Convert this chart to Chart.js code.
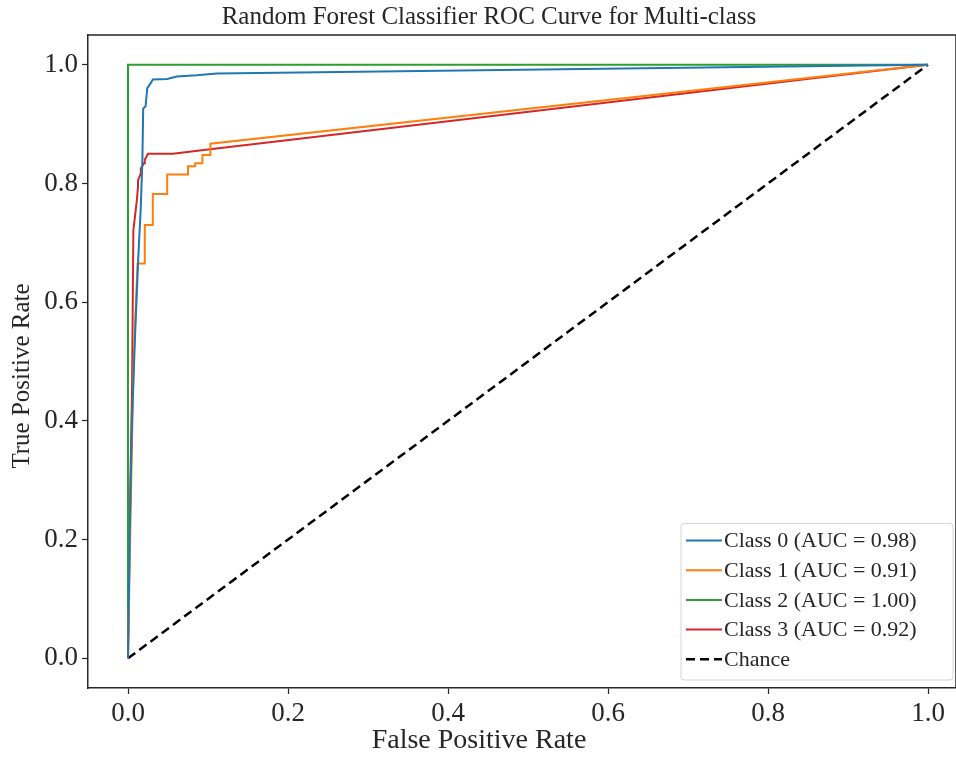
<!DOCTYPE html>
<html>
<head>
<meta charset="utf-8">
<title>ROC Curve</title>
<script src="https://cdn.jsdelivr.net/npm/chart.js@4.4.1/dist/chart.umd.min.js"></script>
<style>
  html, body { margin: 0; padding: 0; background: #fff; }
  #wrap { position: relative; width: 956px; height: 759px; }
</style>
</head>
<body>
<div id="wrap"><canvas id="rocChart"></canvas></div>
<script>
// ROC points per class (false positive rate / true positive rate)
const fpr0 = [0, 0.002, 0.005, 0.009, 0.013, 0.016, 0.018, 0.019, 0.022, 0.024, 0.028, 0.031, 0.049, 0.061, 0.086, 0.111, 1];
const tpr0 = [0, 0.20, 0.40, 0.55, 0.68, 0.76, 0.84, 0.926, 0.93, 0.960, 0.968, 0.975, 0.976, 0.980, 0.982, 0.985, 1];

const fpr1 = [0, 0.004, 0.007, 0.012, 0.021, 0.021, 0.031, 0.031, 0.049, 0.049, 0.075, 0.075, 0.084, 0.084, 0.093, 0.093, 0.103, 0.103, 1];
const tpr1 = [0, 0.30, 0.50, 0.665, 0.665, 0.730, 0.730, 0.782, 0.782, 0.815, 0.815, 0.829, 0.829, 0.834, 0.834, 0.848, 0.848, 0.867, 1];

const fpr2 = [0, 0, 1];
const tpr2 = [0, 1, 1];

const fpr3 = [0, 0.003, 0.005, 0.0067, 0.011, 0.0125, 0.0125, 0.016, 0.016, 0.020, 0.021, 0.025, 0.056, 0.100, 1];
const tpr3 = [0, 0.30, 0.45, 0.721, 0.771, 0.794, 0.805, 0.817, 0.825, 0.834, 0.840, 0.850, 0.850, 0.857, 1];

const chanceX = [0, 1];
const chanceY = [0, 1];

const classLabels = ['Class 0 (AUC = 0.98)', 'Class 1 (AUC = 0.91)', 'Class 2 (AUC = 1.00)', 'Class 3 (AUC = 0.92)'];
const classColors = ['#1f77b4', '#ff7f0e', '#2ca02c', '#d62728'];
const axisTicks = [0, 0.2, 0.4, 0.6, 0.8, 1.0];

const chartTitle = 'Random Forest Classifier ROC Curve for Multi-class';
const xTitle = 'False Positive Rate';
const yTitle = 'True Positive Rate';

const SERIF = '"Liberation Serif", "Times New Roman", serif';
const INK = '#262626';

const toPoints = (xs, ys) => xs.map((x, i) => ({ x: x, y: ys[i] }));

const classSeries = [[fpr0, tpr0], [fpr1, tpr1], [fpr2, tpr2], [fpr3, tpr3]];
const datasets = classSeries.map(([xs, ys], i) => ({
  label: classLabels[i], data: toPoints(xs, ys),
  borderColor: classColors[i], borderWidth: 2, showLine: true, pointRadius: 0, tension: 0
}));
datasets.push({
  label: 'Chance', data: toPoints(chanceX, chanceY),
  borderColor: '#000', borderWidth: 2.5, borderDash: [9, 5], showLine: true, pointRadius: 0
});

// top/right spines (Chart.js only draws the axis borders)
const frameBox = {
  id: 'frameBox',
  afterDraw(chart) {
    const { ctx, chartArea: a } = chart;
    ctx.save();
    ctx.strokeStyle = INK; ctx.lineWidth = 1.5;
    ctx.beginPath();
    ctx.moveTo(a.left, a.top); ctx.lineTo(a.right, a.top); ctx.lineTo(a.right, a.bottom);
    ctx.stroke();
    ctx.restore();
  }
};

// figure title and axis captions, placed like the matplotlib figure
const captions = {
  id: 'captions',
  afterDraw(chart) {
    const { ctx } = chart;
    ctx.save();
    ctx.fillStyle = INK;
    ctx.textAlign = 'center';
    ctx.textBaseline = 'middle';
    ctx.font = '25px ' + SERIF;
    ctx.fillText(chartTitle, 489, 17);
    ctx.font = '28px ' + SERIF;
    ctx.fillText(xTitle, 479, 741);
    ctx.translate(22, 376);
    ctx.rotate(-Math.PI / 2);
    ctx.font = '25px ' + SERIF;
    ctx.fillText(yTitle, 0, 0);
    ctx.restore();
  }
};

// legend box sitting in the lower-right corner of the plot
const insideLegend = {
  id: 'insideLegend',
  afterDraw(chart) {
    const { ctx, chartArea: a } = chart;
    const sets = chart.data.datasets;
    const rowH = 29.7;
    const right = a.right - 3, bottom = a.bottom - 8;
    const w = 272, h = sets.length * rowH + 8;
    const left = right - w, top = bottom - h;
    ctx.save();
    ctx.beginPath();
    ctx.roundRect(left, top, w, h, 3);
    ctx.fillStyle = 'rgba(255,255,255,0.85)';
    ctx.fill();
    ctx.strokeStyle = '#d5d5d5'; ctx.lineWidth = 1;
    ctx.stroke();
    ctx.font = '22px ' + SERIF;
    ctx.textBaseline = 'middle';
    sets.forEach((ds, i) => {
      const y = top + 17 + i * rowH;
      ctx.beginPath();
      ctx.setLineDash(ds.borderDash || []);
      ctx.strokeStyle = ds.borderColor; ctx.lineWidth = ds.borderWidth;
      ctx.moveTo(left + 5, y); ctx.lineTo(left + 41, y);
      ctx.stroke();
      ctx.setLineDash([]);
      ctx.fillStyle = INK;
      ctx.fillText(ds.label, left + 43, y + 1);
    });
    ctx.restore();
  }
};

const fixedTicks = s => { s.ticks = axisTicks.map(v => ({ value: v })); };
const tickFmt = v => Number(v).toFixed(1);

new Chart(document.getElementById('rocChart'), {
  type: 'scatter',
  data: { datasets: datasets },
  plugins: [frameBox, captions, insideLegend],
  options: {
    responsive: true, maintainAspectRatio: false, animation: false,
    layout: { padding: { left: 0, right: 0, top: 35, bottom: 0 } },
    plugins: {
      legend: { display: false },
      tooltip: { enabled: false },
      title: { display: false }
    },
    scales: {
      x: {
        type: 'linear', min: -0.05, max: 1.035,
        afterBuildTicks: fixedTicks,
        afterFit: s => { s.height = 71; },
        grid: { drawOnChartArea: false, drawTicks: true, tickLength: 6, tickWidth: 1.2, tickColor: INK },
        border: { display: true, color: INK, width: 1.5 },
        ticks: { color: INK, padding: 4, font: { family: SERIF, size: 27 }, callback: tickFmt, maxRotation: 0 }
      },
      y: {
        type: 'linear', min: -0.05, max: 1.05,
        afterBuildTicks: fixedTicks,
        afterFit: s => { s.width = 88; },
        grid: { drawOnChartArea: false, drawTicks: true, tickLength: 6, tickWidth: 1.2, tickColor: INK },
        border: { display: true, color: INK, width: 1.5 },
        ticks: { color: INK, padding: 4, font: { family: SERIF, size: 27 }, callback: tickFmt }
      }
    }
  }
});
</script>
</body>
</html>
